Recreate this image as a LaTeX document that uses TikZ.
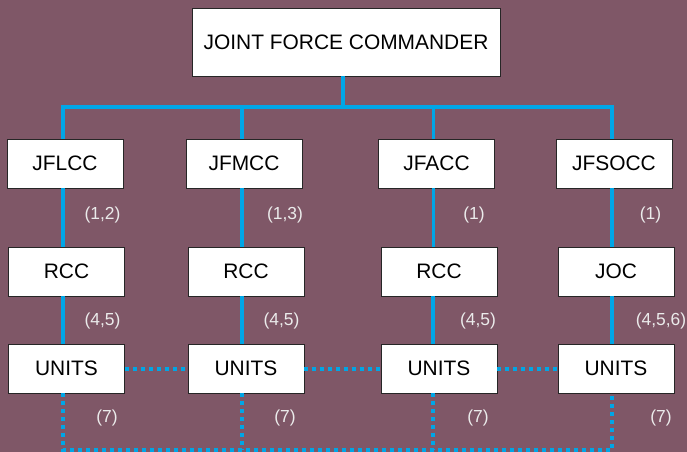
\documentclass[tikz,border=0pt]{standalone}
\usepackage{fontspec}
\setmainfont{Liberation Sans}
\definecolor{bgc}{RGB}{127,87,103}
\definecolor{linec}{RGB}{0,166,230}
\definecolor{labc}{RGB}{235,235,235}
\begin{document}
\begin{tikzpicture}[x=1bp,y=-1bp,
  box/.style={draw=black!85,line width=0.8bp,fill=white,inner sep=0pt,font=\fontsize{21}{23}\selectfont},
  small/.style={box,minimum width=116bp,minimum height=49bp},
  lab/.style={text=labc,inner sep=0pt,font=\fontsize{17.5}{19}\selectfont},
  solidline/.style={draw=linec,line width=3.8bp},
  dotline/.style={draw=linec,line width=4bp,dash pattern=on 4bp off 4bp}]
\fill[bgc] (0,0) rectangle (687,452);
\useasboundingbox (0,0) rectangle (687,452);
% nodes
\node[box,minimum width=308bp,minimum height=68bp] (jfc) at (346,42) {JOINT FORCE COMMANDER};
\node[small] (jflcc) at (65,163.5) {JFLCC};
\node[small] (jfmcc) at (244,163.5) {JFMCC};
\node[small] (jfacc) at (436.5,163.5) {JFACC};
\node[small] (jfsocc) at (614,163.5) {JFSOCC};
\node[small] (rcca) at (66.5,271.5) {RCC};
\node[small] (rccb) at (246,271.5) {RCC};
\node[small] (rccc) at (439,271.5) {RCC};
\node[small] (joc) at (616,271.5) {JOC};
\node[small] (ua) at (66.5,368.5) {UNITS};
\node[small] (ub) at (246,368.5) {UNITS};
\node[small] (uc) at (439,368.5) {UNITS};
\node[small] (ud) at (616,368.5) {UNITS};
\coordinate (bus) at (343,107);
\coordinate (bot) at (343,450);
% connectors
\draw[solidline] (jfc.south -| bus) -- (bus);
\draw[solidline] ([xshift=-2bp]jflcc.north) -- ([xshift=-2bp]jflcc.north |- bus) -- ([xshift=-2bp]jfsocc.north |- bus) -- ([xshift=-2bp]jfsocc.north);
\draw[solidline] ([xshift=-2bp]jfmcc.north) -- ([xshift=-2bp]jfmcc.north |- bus);
\draw[solidline] ([xshift=-3bp]jfacc.north) -- ([xshift=-3bp]jfacc.north |- bus);
\draw[solidline] ([xshift=-2bp]jflcc.south) -- ([xshift=-2bp]jflcc.south |- rcca.north);
\draw[solidline] ([xshift=-2bp]jfmcc.south) -- ([xshift=-2bp]jfmcc.south |- rccb.north);
\draw[solidline] ([xshift=-3bp]jfacc.south) -- ([xshift=-3bp]jfacc.south |- rccc.north);
\draw[solidline] ([xshift=-2bp]jfsocc.south) -- ([xshift=-2bp]jfsocc.south |- joc.north);
\draw[solidline] ([xshift=-3.5bp]rcca.south) -- ([xshift=-3.5bp]ua.north);
\draw[solidline] ([xshift=-4bp]rccb.south) -- ([xshift=-4bp]ub.north);
\draw[solidline] ([xshift=-6bp]rccc.south) -- ([xshift=-6bp]uc.north);
\draw[solidline] ([xshift=-4bp]joc.south) -- ([xshift=-4bp]ud.north);
\draw[dotline] (ua.east) -- (ub.west);
\draw[dotline] (ub.east) -- (uc.west);
\draw[dotline] (uc.east) -- (ud.west);
\draw[dotline] ([xshift=-3.5bp]ua.south) -- ([xshift=-3.5bp]ua.south |- bot) -- ([xshift=-4bp]ud.south |- bot) -- ([xshift=-4bp]ud.south);
\draw[dotline] ([xshift=-4bp]ub.south) -- ([xshift=-4bp]ub.south |- bot);
\draw[dotline] ([xshift=-6bp]uc.south) -- ([xshift=-6bp]uc.south |- bot);
% labels
\node[lab] (l1) at (102.5,215) {(1,2)};
\node[lab] (l2) at (285,215) {(1,3)};
\node[lab] (l3) at (474,215) {(1)};
\node[lab] (l4) at (650.5,215) {(1)};
\node[lab] (l5) at (102.5,321) {(4,5)};
\node[lab] (l6) at (281.5,321) {(4,5)};
\node[lab] (l7) at (478,321) {(4,5)};
\node[lab] (l8) at (661,321) {(4,5,6)};
\node[lab] (l9) at (107,418) {(7)};
\node[lab] (l10) at (285,418) {(7)};
\node[lab] (l11) at (478,418) {(7)};
\node[lab] (l12) at (661,418) {(7)};
\end{tikzpicture}
\end{document}
